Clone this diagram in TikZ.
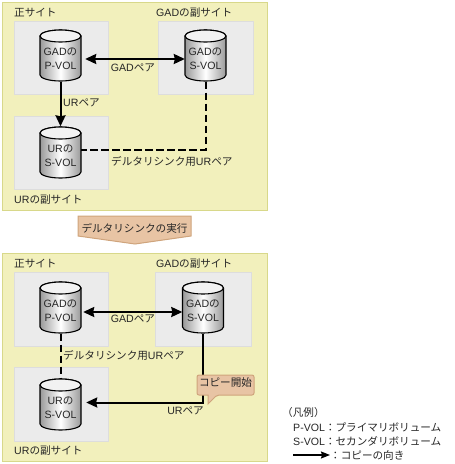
\documentclass[tikz,border=0pt]{standalone}
\usepackage{fontspec}
\setmainfont{Liberation Sans}
\newfontfamily\cjk{Noto Sans CJK JP}
\newcommand{\J}[1]{{\cjk #1}}
\usetikzlibrary{arrows.meta,calc}
\definecolor{panelfill}{HTML}{F2F0BC}
\definecolor{panelline}{HTML}{D8D88A}
\definecolor{sitefill}{HTML}{EBEBEB}
\definecolor{siteline}{HTML}{DDDDDD}
\definecolor{noteFill}{HTML}{E8C4A4}
\definecolor{noteLine}{HTML}{CFA47C}
\tikzset{
  panel/.style={fill=panelfill,draw=panelline,line width=1pt},
  site/.style={fill=sitefill,draw=siteline,line width=1pt},
  lbl/.style={font=\fontsize{10.6}{14}\selectfont,inner sep=0pt,text=black!85},
  volbox/.style={lbl,align=center,minimum width=41pt,minimum height=51pt,inner sep=0pt,text=black!85},
  link/.style={line width=2pt,black},
  arrowone/.style={-{Stealth[length=11pt,width=10pt,inset=1pt]}},
  arrowtwo/.style={{Stealth[length=11pt,width=10pt,inset=1pt]}-{Stealth[length=11pt,width=10pt,inset=1pt]}},
  dashlink/.style={line width=2pt,black,dash pattern=on 7.5pt off 3.5pt},
}
% name, left x, top y, text
\newcommand{\drawvol}[4]{%
  \path[draw=black,line width=1.1pt,left color=black!40,right color=black!40,middle color=white]
    (#2,#3+6) arc[x radius=20.5,y radius=6,start angle=180,end angle=360]
    -- (#2+41,#3+45) arc[x radius=20.5,y radius=6,start angle=0,end angle=180] -- cycle;
  \path[draw=black,line width=1.1pt,fill=black!5] (#2+20.5,#3+6) ellipse[x radius=20.5,y radius=6];
  \node[volbox] (#1) at (#2+20.5,#3+29) {#4};
}
\begin{document}
\begin{tikzpicture}[x=1pt,y=-1pt]
\useasboundingbox (0,0) rectangle (455,464);
% top panel
\draw[panel] (2,2) rectangle (267,210);
\draw[site] (14,21) rectangle (108,94);
\draw[site] (158,21) rectangle (253,94);
\draw[site] (14,116) rectangle (108,189);
\node[lbl,anchor=west] (t1) at (14,13) {\J{正サイト}};
\node[lbl,anchor=west] (t2) at (156,13) {GAD\J{の副サイト}};
\node[lbl,anchor=west] (t3) at (14,200) {UR\J{の副サイト}};
\drawvol{ap}{40}{30}{GAD\J{の}\\P-VOL}
\drawvol{as}{185}{30}{GAD\J{の}\\S-VOL}
\drawvol{au}{40}{127}{UR\J{の}\\S-VOL}
\draw[link,arrowtwo,shorten <=4pt] (ap.east) -- (as.west);
\draw[link,arrowone] ($(ap.south)+(0,-3)$) -- ($(au.north)+(0,-4)$);
\draw[dashlink] ($(as.south)+(0,-3)$) |- ($(au.east)+(0,-6)$);
\node[lbl] (g1) at (133,68) {GAD\J{ペア}};
\node[lbl,anchor=west] (u1) at (63,103) {UR\J{ペア}};
\node[lbl,anchor=west] (d1) at (111,161) {\J{デルタリシンク用}UR\J{ペア}};
% block arrow
\draw[fill=noteFill,draw=noteLine,line width=1pt] (78,216) -- (191,216) -- (191,236) -- (135,244) -- (78,236) -- cycle;
\node[lbl] (run) at (134.5,228) {\J{デルタリシンクの実行}};
% bottom panel
\draw[panel] (2,253) rectangle (267,461);
\draw[site] (14,272) rectangle (108,346);
\draw[site] (155,272) rectangle (251,346);
\draw[site] (14,367) rectangle (108,441);
\node[lbl,anchor=west] (t4) at (14,264) {\J{正サイト}};
\node[lbl,anchor=west] (t5) at (156,264) {GAD\J{の副サイト}};
\node[lbl,anchor=west] (t6) at (14,451) {UR\J{の副サイト}};
\drawvol{bp}{40}{282}{GAD\J{の}\\P-VOL}
\drawvol{bs}{182.5}{282}{GAD\J{の}\\S-VOL}
\drawvol{bu}{40}{379}{UR\J{の}\\S-VOL}
\draw[link,arrowtwo,shorten <=2pt] ($(bp.east)+(0,1)$) -- ($(bs.west)+(0,1)$);
\draw[dashlink] ($(bp.south)+(0,-3)$) -- ($(bu.north)+(0,-4)$);
\coordinate (b3) at ($(bu.east)+(5,-5.5)$);
\draw[link,arrowone] ($(bs.south)+(0,-3)$) |- (b3);
\node[lbl] (g2) at (133,319) {GAD\J{ペア}};
\node[lbl,anchor=west] (d2) at (63,355) {\J{デルタリシンク用}UR\J{ペア}};
\node[lbl,anchor=east] (u2) at (204,411) {UR\J{ペア}};
\draw[fill=noteFill,draw=noteLine,line width=1pt,rounded corners=2pt] (197,375) -- (254,375) -- (254,395) -- (217,395) [sharp corners] -- (208,404) -- (208,395) [rounded corners=2pt] -- (197,395) -- cycle;
\node[lbl] (cp) at (225.5,382) {\J{コピー開始}};
% legend
\node[lbl,anchor=west] (l0) at (282,412.5) {\J{（凡例）}};
\node[lbl,anchor=west] (l1) at (293,427) {P-VOL\J{：プライマリボリューム}};
\node[lbl,anchor=west] (l2) at (293,441) {S-VOL\J{：セカンダリボリューム}};
\coordinate (l3) at (293,455);
\node[lbl,anchor=west] (l4) at (330,455) {\J{：コピーの向き}};
\draw[line width=1.2pt,black,-{Stealth[length=9pt,width=7pt,inset=1pt]}] (l3) -- (l4.west);
\end{tikzpicture}
\end{document}
